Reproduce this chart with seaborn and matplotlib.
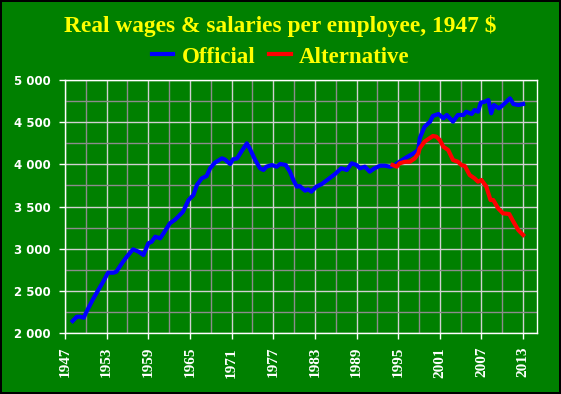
import matplotlib
matplotlib.use("Agg")
import matplotlib.pyplot as plt
import matplotlib.ticker as mticker
import seaborn as sns
import numpy as np
import pandas as pd

# official series
official_year = [1948.1, 1948.7, 1949.2, 1949.7, 1950.1, 1950.6, 1951.1, 1951.8, 1952.5, 1953.2,
                 1954.0, 1954.4, 1955.2, 1955.9, 1956.8, 1957.6, 1958.3, 1959.0, 1959.5, 1960.0,
                 1960.7, 1961.2, 1962.1, 1962.8, 1963.3, 1964.0, 1964.8, 1965.5, 1966.0, 1966.7,
                 1967.4, 1967.9, 1968.6, 1969.6, 1970.0, 1970.8, 1971.2, 1971.8, 1972.4, 1973.2,
                 1973.6, 1974.4, 1975.1, 1975.6, 1976.0, 1976.8, 1977.5, 1978.0, 1978.8, 1979.4,
                 1979.9, 1980.4, 1980.8, 1981.6, 1982.0, 1982.5, 1983.2, 1984.0, 1984.9, 1985.9,
                 1986.8, 1987.6, 1988.3, 1989.0, 1989.5, 1990.2, 1990.9, 1991.6, 1992.4, 1993.1,
                 1993.8, 1994.5, 1995.2, 1996.2, 1997.2, 1997.9, 1998.1, 1998.8, 1999.6, 2000.0,
                 2000.8, 2001.5, 2002.0, 2002.9, 2003.6, 2004.4, 2004.8, 2005.6, 2006.0, 2006.5,
                 2006.9, 2007.5, 2008.0, 2008.4, 2008.8, 2009.5, 2010.1, 2011.1, 2011.6, 2012.3,
                 2013.0]
official_value = [2142, 2193, 2193, 2181, 2252, 2332, 2411, 2510, 2608, 2715,
                  2715, 2727, 2826, 2905, 2992, 2964, 2925, 3063, 3083, 3142,
                  3122, 3182, 3300, 3340, 3379, 3438, 3577, 3636, 3755, 3834,
                  3861, 3953, 4020, 4071, 4059, 4004, 4059, 4071, 4150, 4249,
                  4190, 4051, 3953, 3933, 3972, 3992, 3972, 4004, 3992, 3913,
                  3814, 3735, 3743, 3687, 3704, 3676, 3735, 3767, 3822, 3885,
                  3953, 3933, 4012, 3992, 3953, 3972, 3913, 3953, 3984, 3984,
                  3972, 3992, 4031, 4083, 4130, 4170, 4308, 4446, 4506, 4573,
                  4597, 4546, 4585, 4506, 4585, 4585, 4624, 4597, 4644, 4624,
                  4731, 4743, 4763, 4605, 4704, 4664, 4704, 4783, 4715, 4704,
                  4715]

# alternative series
alt_year = [1994.2, 1994.8, 1995.2, 1996.0, 1996.7, 1997.4, 1997.9, 1998.1, 1998.8, 1999.3,
            2000.0, 2000.5, 2001.0, 2001.5, 2002.2, 2002.9, 2003.6, 2004.1, 2004.6, 2005.3,
            2006.0, 2006.5, 2007.0, 2007.7, 2008.3, 2008.7, 2009.4, 2010.1, 2011.0, 2011.6,
            2012.3, 2013.0]
alt_value = [3992, 3972, 4012, 4031, 4031, 4071, 4130, 4190, 4269, 4297,
             4336, 4328, 4288, 4209, 4170, 4051, 4031, 3992, 3980, 3873,
             3834, 3794, 3814, 3735, 3577, 3577, 3478, 3419, 3411, 3320,
             3221, 3162]

series_names = ["Official", "Alternative"]
series_colors = ["#0000FF", "#FF0000"]
x_ticks = list(range(1947, 2014, 6))

df = pd.concat([
    pd.DataFrame({"year": official_year, "value": official_value, "series": "Official"}),
    pd.DataFrame({"year": alt_year, "value": alt_value, "series": "Alternative"}),
])

green = "#008000"
fig = plt.figure(figsize=(5.61, 3.94), dpi=100, facecolor=green,
                 edgecolor="black", linewidth=1.5)
ax = fig.add_axes([65 / 561, 1 - 333 / 394, 472 / 561, 253 / 394])
ax.set_facecolor(green)

sns.lineplot(data=df, x="year", y="value", hue="series", hue_order=series_names,
             palette=series_colors, linewidth=3, estimator=None, sort=False,
             legend=False, ax=ax, zorder=3)

ax.set_xlim(1947, 2015)
ax.set_ylim(2000, 5000)
ax.xaxis.set_major_locator(mticker.FixedLocator(x_ticks))
ax.xaxis.set_minor_locator(mticker.MultipleLocator(3))
ax.yaxis.set_major_locator(mticker.MultipleLocator(500))
ax.yaxis.set_minor_locator(mticker.MultipleLocator(250))
ax.yaxis.set_major_formatter(mticker.FuncFormatter(lambda v, p: f"{v:,.0f}".replace(",", " ")))

ax.grid(which="minor", color="#8c8c8c", linewidth=1.0)
ax.grid(which="major", color="#d0d0d0", linewidth=1.0)
ax.set_axisbelow(True)
for s in ax.spines.values():
    s.set_color("white")
    s.set_linewidth(1.0)

ax.tick_params(which="major", colors="white", length=4, width=1, pad=6)
ax.tick_params(which="minor", length=0)
for lab in ax.get_yticklabels():
    lab.set_fontfamily("DejaVu Sans")
    lab.set_fontweight("bold")
    lab.set_fontsize(8.5)
for lab in ax.get_xticklabels():
    lab.set_fontfamily("Liberation Serif")
    lab.set_fontweight("bold")
    lab.set_fontsize(11)
    lab.set_rotation(90)
ax.set_xlabel("")
ax.set_ylabel("")

fig.text(0.5, 1 - 26 / 394, "Real wages & salaries per employee, 1947 $",
         ha="center", va="center", color="yellow", fontsize=16.8,
         fontfamily="Liberation Serif", fontweight="bold")

handles = ax.get_lines()[:2]
leg = fig.legend(handles, series_names, loc="center", bbox_to_anchor=(0.5, 1 - 57 / 394),
                 ncol=2, frameon=False, handlelength=0.95, handletextpad=0.35,
                 columnspacing=0.6, prop={"family": "Liberation Serif", "weight": "bold", "size": 16.5})
for t in leg.get_texts():
    t.set_color("yellow")

fig.savefig("out.png", dpi=100, facecolor=green, edgecolor="black")
